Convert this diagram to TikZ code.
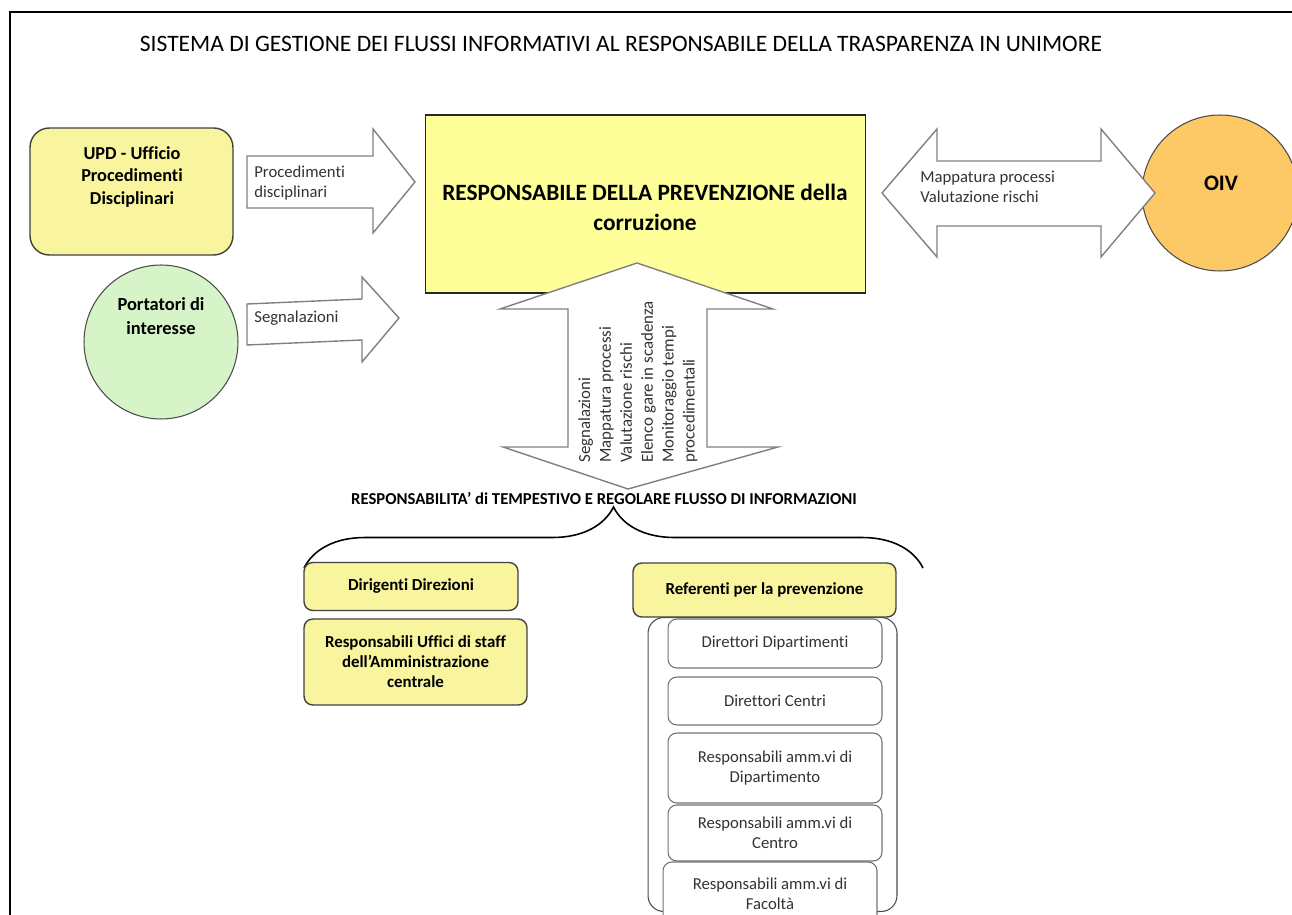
\documentclass[tikz,border=0pt]{standalone}
\usepackage{fontspec}
\setmainfont{Carlito}[Ligatures=NoCommon]
\usetikzlibrary{positioning,decorations.pathreplacing}

\begin{document}
\begin{tikzpicture}[x=0.02cm,y=-0.02cm]
\definecolor{box yellow}{RGB}{255,255,153}
\definecolor{pale yellow}{RGB}{249,244,158}
\definecolor{pale green}{RGB}{214,244,200}
\definecolor{oiv orange}{RGB}{253,200,102}
\colorlet{arrow edge}{black!50}
\colorlet{label text}{black!80}
\tikzset{
     yellowbox/.style={draw=black!75, fill=pale yellow, line width=0.8pt, rounded corners=5pt, inner sep=0pt},
     whitebox/.style={draw=black!55, fill=white, line width=0.6pt, rounded corners=5pt, inner sep=0pt,
                      minimum width=4.28cm, font=\fontsize{9.5}{11.3}\selectfont, text=label text, align=center},
     blockarrow/.style={draw=arrow edge, fill=white, line width=0.8pt, line join=miter},
     boldtext/.style={font=\fontsize{9.6}{11.4}\selectfont\bfseries, align=center, inner sep=0pt},
     plaintext/.style={font=\fontsize{9.5}{11.3}\selectfont, text=label text, align=left, inner sep=0pt}}

\useasboundingbox (0,0) rectangle (1292,915);

% The frame and the title
\draw[line width=1.7pt] (10,920) -- (10,12) -- (1300,12);
\node (title) [inner sep=0pt, font=\fontsize{13.4}{16}\selectfont] at (621,44)
  {SISTEMA DI GESTIONE DEI FLUSSI INFORMATIVI AL RESPONSABILE DELLA TRASPARENZA IN UNIMORE};

% The sources on the left
\node (upd) [yellowbox, rounded corners=11pt, minimum width=4.06cm, minimum height=2.54cm] at (131.5,191.5) {};
\node (updtext) [boldtext, font=\fontsize{10.4}{13}\selectfont\bfseries] at (132,177)
  {UPD - Ufficio\\Procedimenti\\Disciplinari};
\node (portatori) [circle, fill=pale green, draw=black!70, line width=0.6pt, minimum size=3.08cm, inner sep=0pt] at (161,342) {};
\node (portatoritext) [boldtext, font=\fontsize{10.5}{13.6}\selectfont\bfseries] at (161,316)
  {Portatori di\\interesse};

\draw[blockarrow] (247,156) -- (373,156) -- (373,129) -- (415,182) -- (373,233) -- (373,208) -- (247,208) -- cycle;
\node (procedimenti) [plaintext, anchor=west] at (254,183) {Procedimenti\\disciplinari};
\draw[blockarrow] (247,304) -- (362,299) -- (362,277) -- (399,318) -- (362,362) -- (362,340) -- (247,345) -- cycle;
\node (segnalazioni) [plaintext, anchor=west] at (254,318) {Segnalazioni};

% The central box
\node (rpc) [draw=black!85, fill=box yellow, line width=0.6pt, minimum width=8.82cm, minimum height=3.56cm] at (645.5,204) {};
\node (rpctext) [boldtext, font=\fontsize{13.3}{17}\selectfont\bfseries] at (645,207)
  {RESPONSABILE DELLA PREVENZIONE della\\corruzione};

% The OIV and its double arrow
\node (oiv) [circle, fill=oiv orange, draw=black!70, line width=0.6pt, minimum size=3.12cm, inner sep=0pt] at (1220,193) {};
\node (oivtext) [boldtext, font=\fontsize{12.6}{15}\selectfont\bfseries] at (1221,183) {OIV};
\draw[blockarrow] (882,193) -- (937,129) -- (937,161) -- (1101,161) -- (1101,129) -- (1155,193)
  -- (1101,257) -- (1101,226) -- (937,226) -- (937,257) -- cycle;
\node (oivflussi) [plaintext, anchor=west] at (920,187) {Mappatura processi\\Valutazione rischi};

% The vertical double arrow
\draw[blockarrow] (637,263) -- (773,309) -- (707,309) -- (707,447) -- (778,447) -- (628,489)
  -- (503,447) -- (568,447) -- (568,309) -- (500,309) -- cycle;
\node (flussi) [plaintext, rotate=90, anchor=north west, font=\fontsize{9.6}{11.9}\selectfont] at (578,463)
  {Segnalazioni\\Mappatura processi\\Valutazione rischi\\Elenco gare in scadenza\\Monitoraggio tempi\\procedimentali};

% The responsibility and the brace
\node (resp) [boldtext, font=\fontsize{9.5}{11}\selectfont\bfseries] at (604,498)
  {RESPONSABILITA’ di TEMPESTIVO E REGOLARE FLUSSO DI INFORMAZIONI};
\draw[line width=0.9pt, decorate, decoration={brace, amplitude=1.22cm}] (304,568) -- (923,568);

% The left column
\node (dirigenti) [yellowbox, minimum width=4.28cm, minimum height=0.96cm, font=\fontsize{9.6}{11.4}\selectfont\bfseries] at (411,586.5)
  {Dirigenti Direzioni};
\node (staff) [yellowbox, minimum width=4.46cm, minimum height=1.72cm, align=center, font=\fontsize{9.6}{11.4}\selectfont\bfseries] at (415.5,662)
  {Responsabili Uffici di staff\\dell’Amministrazione\\centrale};

% The right column
\node (referenti) [yellowbox, minimum width=5.26cm, minimum height=1.08cm, font=\fontsize{9.6}{11.4}\selectfont\bfseries] at (764.5,590)
  {Referenti per la prevenzione};
\node (gruppo) [draw=black!70, line width=0.6pt, rounded corners=9pt, minimum width=4.98cm, minimum height=5.88cm, inner sep=0pt] at (772.5,912) [anchor=south] {};
\node (dirdip) [whitebox, minimum height=0.98cm] at (775,643.5) {Direttori Dipartimenti};
\node (dircen) [whitebox, minimum height=0.96cm] at (775,701) {Direttori Centri};
\node (radip) [whitebox, minimum height=1.40cm] at (775,768) {Responsabili amm.vi di\\Dipartimento};
\node (racen) [whitebox, minimum height=1.12cm] at (775,833) {Responsabili amm.vi di\\Centro};
\node (rafac) [whitebox, minimum height=1.26cm] at (770,893.5) {Responsabili amm.vi di\\Facoltà};
\end{tikzpicture}
\end{document}
